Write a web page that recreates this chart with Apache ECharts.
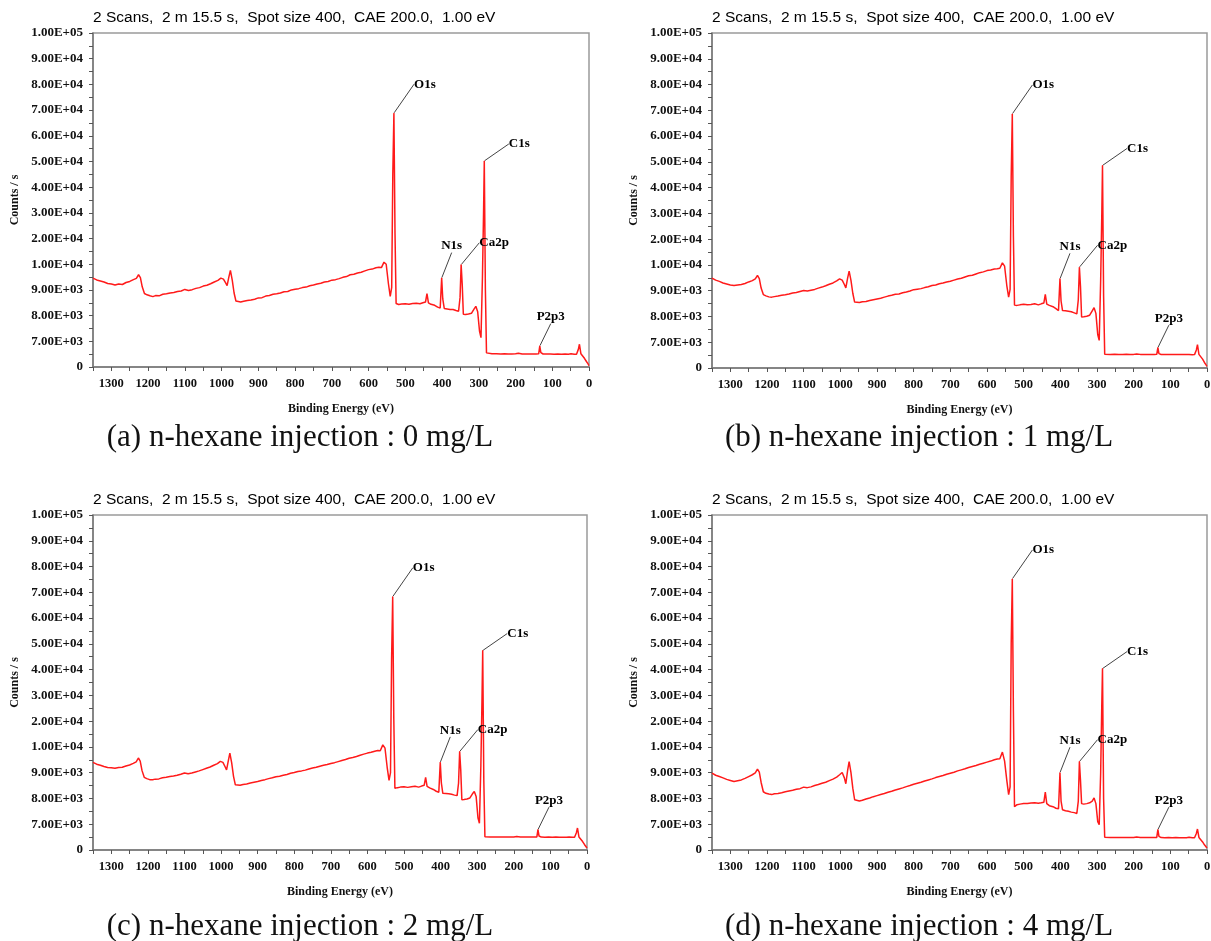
<!DOCTYPE html>
<html>
<head>
<meta charset="utf-8">
<script src="https://cdn.jsdelivr.net/npm/echarts@6/dist/echarts.min.js"></script>
<style>
html,body{margin:0;padding:0;background:#fff;}
#chart{width:1211px;height:941px;}
</style>
</head>
<body>
<div id="chart"></div>
<script>
// Binding energy grid (eV), shared by all four spectra
const energy = [
1350,1340,1330,1320,1310,1300,1290,1280,1270,1260,
1250,1240,1232,1226,1221,1216,1210,1203,1195,1187,
1180,1170,1160,1150,1140,1130,1120,1110,1100,1090,
1080,1070,1060,1050,1040,1030,1020,1010,1002,995,
989,985,980,976,971,966,961,956,948,940,
930,920,910,900,890,880,870,860,850,840,
830,820,810,800,790,780,770,760,750,740,
730,720,710,700,690,680,670,660,650,640,
630,620,610,600,590,580,572,565,558,552,
546,541,537,534,531,528,525,518,510,500,
490,480,470,460,452,445,441,437,430,420,
412,405,401,398,394,386,378,370,362,355,
351,348,345,342,336,328,320,313,308,303,
298,294,290,287,285,282,279,274,264,252,
240,230,220,210,200,192,188,182,172,162,
152,144,137,134,131,125,115,105,95,85,
75,65,56,49,45,40,34,29,26,22,
17,12,7,3,0
];

// (a) n-hexane 0 mg/L  (counts/s)
const countsA = [
9460,9390,9350,9310,9250,9230,9190,9230,9210,9290,
9330,9400,9450,9590,9480,9120,8860,8810,8770,8740,
8780,8770,8830,8850,8880,8900,8940,8960,9020,8980,
9010,9060,9090,9150,9180,9240,9310,9370,9460,9420,
9270,9170,9520,9760,9380,8880,8570,8500,8530,8560,
8590,8610,8640,8690,8700,8760,8780,8830,8850,8880,
8930,8940,9000,9030,9050,9090,9110,9160,9190,9230,
9260,9310,9330,9380,9400,9440,9490,9520,9590,9610,
9660,9690,9740,9790,9810,9860,9880,9870,10800,10000,
9250,8750,9100,45000,68800,22000,8470,8430,8450,8460,
8440,8470,8480,8460,8500,8530,8860,8500,8440,8400,
8330,8300,9460,8650,8280,8260,8240,8240,8200,8170,
8700,9980,9200,8050,8040,8060,8090,8250,8360,8150,
7400,7140,9500,30000,50200,9000,3850,3620,3600,3580,
3560,3600,3570,3550,3580,3720,3600,3560,3540,3570,
3530,3550,3600,5700,3900,3540,3520,3560,3500,3530,
3500,3520,3480,3600,3850,3450,3500,4800,6200,3600,
3100,2300,1500,900,400
];

// (b) n-hexane 1 mg/L
const countsB = [
9490,9410,9360,9300,9260,9220,9200,9220,9240,9280,
9340,9390,9460,9590,9470,9100,8850,8800,8760,8750,
8770,8790,8820,8840,8870,8910,8930,8970,9010,8990,
9020,9050,9100,9140,9190,9250,9300,9380,9460,9410,
9240,9110,9500,9760,9400,8900,8560,8520,8540,8570,
8580,8620,8650,8680,8710,8750,8790,8820,8860,8870,
8920,8950,8990,9040,9060,9080,9120,9150,9200,9220,
9270,9300,9340,9370,9410,9450,9480,9530,9580,9600,
9650,9700,9730,9780,9800,9840,9850,9870,10800,9950,
9200,8750,9050,44000,68600,21000,8440,8430,8450,8470,
8450,8460,8490,8450,8490,8520,8860,8480,8430,8380,
8300,8230,9460,8600,8230,8220,8200,8180,8140,8100,
8650,9910,9150,7980,7990,8010,8050,8220,8340,8120,
7300,7070,9400,29000,48600,8800,3750,3700,3690,3720,
3700,3680,3710,3690,3700,3820,3720,3700,3680,3700,
3690,3670,3720,5520,3900,3680,3690,3660,3700,3670,
3650,3680,3660,3700,3900,3620,3640,4900,6330,3700,
3200,2400,1500,900,450
];

// (c) n-hexane 2 mg/L
const countsC = [
9400,9330,9290,9240,9200,9190,9170,9200,9210,9260,
9300,9360,9420,9570,9450,9080,8820,8770,8730,8730,
8750,8760,8800,8820,8850,8870,8900,8940,8990,8960,
8990,9030,9070,9120,9170,9220,9290,9350,9440,9400,
9230,9110,9480,9760,9380,8860,8530,8490,8510,8540,
8560,8600,8630,8660,8700,8730,8770,8800,8840,8860,
8900,8930,8980,9010,9050,9070,9100,9140,9180,9210,
9250,9290,9320,9360,9390,9430,9470,9510,9560,9590,
9630,9680,9720,9760,9790,9830,9860,9850,10800,9950,
9200,8700,9000,44000,68300,21000,8400,8420,8440,8450,
8430,8450,8470,8440,8480,8510,8820,8470,8410,8350,
8280,8240,9400,8600,8200,8190,8180,8160,8130,8110,
8600,9820,9100,7950,7960,7980,8020,8180,8270,8080,
7250,7040,9300,28000,47400,8700,3600,3540,3520,3550,
3530,3560,3520,3540,3510,3650,3540,3520,3500,3530,
3510,3500,3560,5520,3800,3500,3490,3520,3480,3500,
3470,3490,3460,3560,3780,3440,3470,4700,5970,3550,
3050,2300,1500,950,540
];

// (d) n-hexane 4 mg/L
const countsD = [
8980,8900,8850,8800,8740,8700,8660,8690,8720,8780,
8850,8920,8990,9140,9020,8620,8260,8200,8170,8150,
8180,8190,8220,8260,8290,8320,8360,8380,8440,8420,
8450,8500,8540,8590,8630,8690,8750,8830,8920,9010,
8800,8570,9100,9430,9000,8400,7950,7890,7900,7930,
7980,8020,8070,8110,8150,8190,8240,8280,8330,8370,
8410,8460,8500,8550,8590,8630,8680,8720,8760,8810,
8850,8890,8940,8980,9020,9070,9110,9150,9200,9240,
9280,9330,9370,9410,9450,9500,9530,9540,9800,9450,
8700,8150,8450,50000,75200,24000,7680,7760,7780,7800,
7800,7820,7830,7810,7830,7850,8250,7800,7720,7680,
7620,7600,9000,7900,7560,7520,7500,7470,7450,7420,
7900,9430,8700,7800,7780,7800,7830,7900,8020,7800,
7100,6870,9000,26000,40400,8000,3450,3400,3390,3410,
3400,3380,3410,3390,3370,3520,3420,3400,3380,3390,
3370,3390,3420,5520,3700,3380,3360,3390,3350,3370,
3340,3360,3330,3440,3650,3320,3340,4500,5700,3400,
2950,2200,1400,900,540
];

// Y tick labels (equally spaced on a broken axis)
const yTickLabels = ['0','7.00E+03','8.00E+03','9.00E+03','1.00E+04','2.00E+04','3.00E+04',
  '4.00E+04','5.00E+04','6.00E+04','7.00E+04','8.00E+04','9.00E+04','1.00E+05'];
// Peak annotations
const peakNames = ['O1s','C1s','N1s','Ca2p','P2p3'];
const peakEnergies = [531, 285, 401, 348, 134];

const panelTitle = '2 Scans,  2 m 15.5 s,  Spot size 400,  CAE 200.0,  1.00 eV';
const captions = ['(a) n-hexane injection : 0 mg/L','(b) n-hexane injection : 1 mg/L',
  '(c) n-hexane injection : 2 mg/L','(d) n-hexane injection : 4 mg/L'];
const allCounts = [countsA, countsB, countsC, countsD];

// piecewise axis: 0-7000 one step, 7000-10000 steps of 1000, above steps of 10000
function toAxis(v){
  if (v <= 7000) return v/7000;
  if (v <= 10000) return 1 + (v-7000)/1000;
  return 4 + (v-10000)/10000;
}

const grids = [
  {left:93, top:33, width:496, height:334},
  {left:712, top:33, width:495, height:335},
  {left:93, top:515, width:494, height:335},
  {left:712, top:515, width:495, height:335}
];
const captionPos = [[300,422],[919,422],[300,911],[919,911]];
const labelOffsets = [[31,-29],[35,-17],[10,-32],[33,-22],[11,-29]];
const serif = '"Liberation Serif","DejaVu Serif",serif';

const option = {
  animation:false,
  backgroundColor:'#fff',
  title:[],
  grid:[], xAxis:[], yAxis:[], series:[]
};

grids.forEach((g,k)=>{
  option.grid.push(Object.assign({show:true, borderColor:'#9a9a9a', borderWidth:1.5, outerBoundsMode:'none', containLabel:false}, g));
  option.title.push({text:panelTitle, left:g.left, top:g.top-23, padding:0,
    textStyle:{fontFamily:'"Liberation Sans",Arial,sans-serif', fontSize:15.5, fontWeight:'normal', color:'#000'}});
  option.title.push({text:captions[k], left:captionPos[k][0], top:captionPos[k][1], padding:0, textAlign:'center',
    textStyle:{fontFamily:serif, fontSize:31, fontWeight:'normal', color:'#111'}});
  option.xAxis.push({
    type:'value', gridIndex:k, min:0, max:1350, interval:50, inverse:true,
    name:'Binding Energy (eV)', nameLocation:'middle', nameGap:36,
    nameTextStyle:{fontFamily:serif, fontSize:12, fontWeight:'bold', color:'#111'},
    axisLine:{show:true, onZero:false, lineStyle:{color:'#777', width:1.5}},
    axisTick:{show:true, inside:false, length:4, lineStyle:{color:'#555'}},
    axisLabel:{margin:10, fontFamily:serif, fontSize:12.5, fontWeight:'bold', color:'#111',
      formatter:v => (v % 100 === 0 ? String(v) : '')},
    splitLine:{show:false}
  });
  option.yAxis.push({
    type:'value', gridIndex:k, min:0, max:13, interval:0.5,
    name:'Counts / s', nameLocation:'middle', nameGap:72,
    nameTextStyle:{fontFamily:serif, fontSize:12, fontWeight:'bold', color:'#111'},
    axisLine:{show:true, onZero:false, lineStyle:{color:'#777', width:1.5}},
    axisTick:{show:true, inside:false, length:4, lineStyle:{color:'#555'}},
    axisLabel:{margin:10, fontFamily:serif, fontSize:13, fontWeight:'bold', color:'#111',
      formatter:v => (Math.abs(v - Math.round(v)) < 1e-6 ? yTickLabels[Math.round(v)] : '')},
    splitLine:{show:false}
  });
  const counts = allCounts[k];
  option.series.push({
    type:'line', xAxisIndex:k, yAxisIndex:k, showSymbol:false, symbol:'none',
    lineStyle:{color:'#ff1a1a', width:1.5}, z:3,
    data: energy.map((e,i)=>[e, toAxis(counts[i])])
  });
  option.series.push({
    type:'scatter', xAxisIndex:k, yAxisIndex:k, symbol:'circle', symbolSize:1, z:4,
    itemStyle:{color:'#ff1a1a', opacity:1},
    data: peakEnergies.map((e,j)=>{ const i = energy.indexOf(e); return {name:peakNames[j], value:[e, toAxis(counts[i])]}; }),
    label:{show:true, position:'inside', formatter:p=>p.name, fontFamily:serif, fontSize:13, fontWeight:'bold',
      color:'#000', opacity:1, textBorderWidth:0, textShadowBlur:0},
    labelLine:{show:true, lineStyle:{color:'#444', width:1, opacity:1}},
    emphasis:{disabled:true},
    labelLayout: p => ({dx:labelOffsets[p.dataIndex][0], dy:labelOffsets[p.dataIndex][1]})
  });
});

const chart = echarts.init(document.getElementById('chart'), null, {renderer:'canvas'});
chart.setOption(option);
</script>
</body>
</html>
